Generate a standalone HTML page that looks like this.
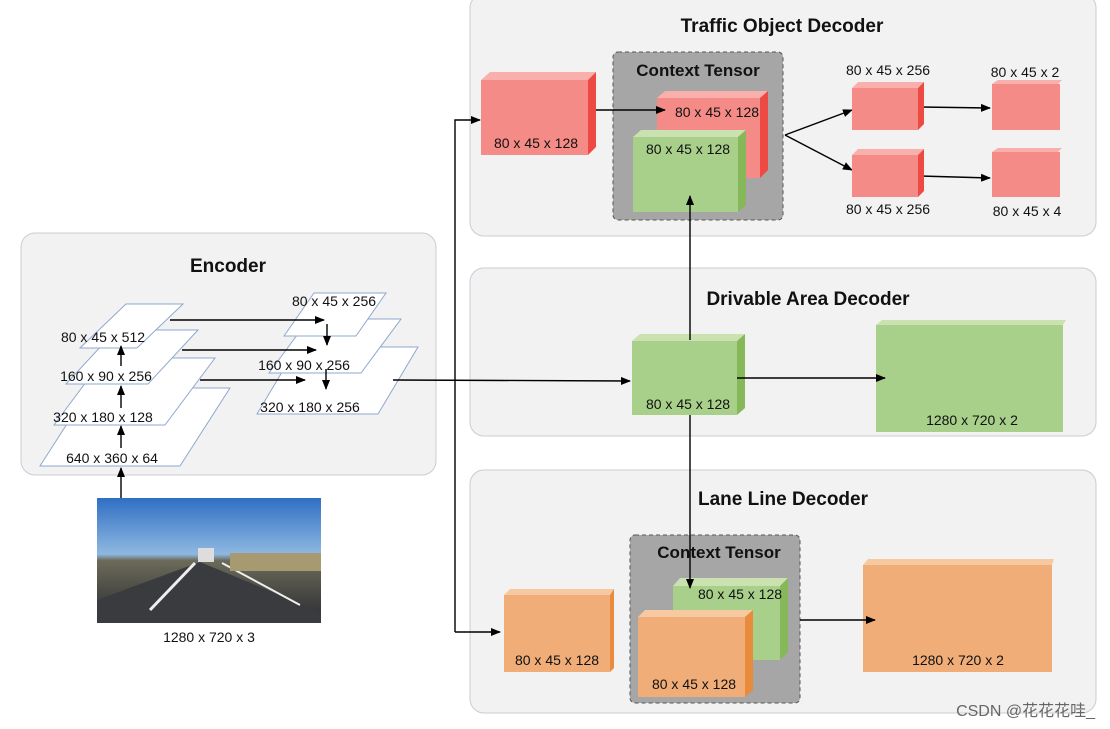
<!DOCTYPE html>
<html><head><style>body{margin:0;background:#fff}svg{display:block}text{font-family:"Liberation Sans","Noto Sans CJK SC",sans-serif}</style></head><body>
<svg width="1110" height="729" viewBox="0 0 1110 729" xmlns="http://www.w3.org/2000/svg">
<defs>
<marker id="a" markerWidth="10" markerHeight="8" refX="9" refY="4" orient="auto" markerUnits="userSpaceOnUse"><path d="M0,0L10,4L0,8z" fill="#000"/></marker>
<linearGradient id="sky" x1="0" y1="0" x2="0" y2="1"><stop offset="0" stop-color="#2f6fc4"/><stop offset="0.45" stop-color="#8fb8e0"/><stop offset="0.5" stop-color="#6b6a5a"/><stop offset="1" stop-color="#2a2c30"/></linearGradient>
</defs>
<rect x="21" y="233" width="415" height="242" rx="14" fill="#f2f2f2" stroke="#c9ccd8"/>
<rect x="470" y="-6" width="626" height="242" rx="14" fill="#f2f2f2" stroke="#c9ccd8"/>
<rect x="470" y="268" width="626" height="168" rx="14" fill="#f2f2f2" stroke="#c9ccd8"/>
<rect x="470" y="470" width="626" height="243" rx="14" fill="#f2f2f2" stroke="#c9ccd8"/>
<g font-weight="bold" font-size="19" text-anchor="middle" fill="#111">
<text x="228" y="272">Encoder</text>
<text x="782" y="32">Traffic Object Decoder</text>
<text x="808" y="305">Drivable Area Decoder</text>
<text x="783" y="505">Lane Line Decoder</text>
</g>
<g fill="#fff" stroke="#8fa8d0" stroke-width="1">
<polygon points="40,466 90,388 230,388 180,466"/>
<polygon points="54,425 104,358 215,358 165,425"/>
<polygon points="66,384 116,330 198,330 148,384"/>
<polygon points="80,348 126,304 183,304 137,348"/>
<polygon points="257,414 297,347 418,347 378,414"/>
<polygon points="269,373 309,319 401,319 361,373"/>
<polygon points="284,336 314,293 386,293 356,336"/>
</g>
<g font-size="14" fill="#111" text-anchor="middle">
<text x="103" y="342">80 x 45 x 512</text>
<text x="106" y="381">160 x 90 x 256</text>
<text x="103" y="422">320 x 180 x 128</text>
<text x="112" y="463">640 x 360 x 64</text>
<text x="334" y="306">80 x 45 x 256</text>
<text x="304" y="370">160 x 90 x 256</text>
<text x="310" y="412">320 x 180 x 256</text>
<text x="209" y="642">1280 x 720 x 3</text>
</g>
<g stroke="#000" stroke-width="1.4" fill="none" marker-end="url(#a)">
<line x1="121" y1="505" x2="121" y2="468"/>
<line x1="121" y1="448" x2="121" y2="426"/>
<line x1="121" y1="408" x2="121" y2="386"/>
<line x1="121" y1="366" x2="121" y2="346"/>
<line x1="170" y1="320" x2="324" y2="320"/>
<line x1="182" y1="350" x2="316" y2="350"/>
<line x1="200" y1="380" x2="305" y2="380"/>
<line x1="327" y1="324" x2="327" y2="345"/>
<line x1="326" y1="369" x2="326" y2="389"/>
<line x1="393" y1="380" x2="630" y2="381"/>
<polyline points="455,632 455,120 480,120"/>
<line x1="455" y1="632" x2="500" y2="632"/>
<line x1="785" y1="135" x2="852" y2="110"/>
<line x1="785" y1="135" x2="852" y2="170"/>
<line x1="920" y1="107" x2="990" y2="108"/>
<line x1="920" y1="176" x2="990" y2="178"/>
</g>
<rect x="97" y="498" width="224" height="125" fill="url(#sky)"/>
<polygon points="97,600 200,562 321,612 321,623 97,623" fill="#3a3b3e"/>
<line x1="150" y1="610" x2="195" y2="563" stroke="#eee" stroke-width="3"/>
<line x1="222" y1="563" x2="300" y2="605" stroke="#eee" stroke-width="2"/>
<rect x="230" y="553" width="91" height="18" fill="#a89a70"/>
<rect x="198" y="548" width="16" height="14" fill="#ddd"/>
<polygon points="481,80 490,72 596,72 588,80" fill="#f9b0ac"/><polygon points="588,80 596,72 596,147 588,155" fill="#ee4a44"/><rect x="481" y="80" width="107" height="75" fill="#f58b86"/>
<rect x="613" y="52" width="170" height="168" rx="5" fill="#a6a6a6" stroke="#555" stroke-dasharray="4,3"/>
<polygon points="657,98 665,91 768,91 760,98" fill="#f9b0ac"/><polygon points="760,98 768,91 768,170 760,178" fill="#ee4a44"/><rect x="657" y="98" width="103" height="80" fill="#f58b86"/>
<polygon points="633,137 641,130 746,130 738,137" fill="#c9e2b0"/><polygon points="738,137 746,130 746,205 738,212" fill="#86b85a"/><rect x="633" y="137" width="105" height="75" fill="#a8d08a"/>
<polygon points="852,88 858,82 924,82 918,88" fill="#f9b0ac"/><polygon points="918,88 924,82 924,124 918,130" fill="#ee4a44"/><rect x="852" y="88" width="66" height="42" fill="#f58b86"/>
<polygon points="852,155 858,149 924,149 918,155" fill="#f9b0ac"/><polygon points="918,155 924,149 924,191 918,197" fill="#ee4a44"/><rect x="852" y="155" width="66" height="42" fill="#f58b86"/>
<polygon points="992,84 998,80 1062,80 1058,84" fill="#f9b0ac"/><rect x="992" y="84" width="68" height="46" fill="#f58b86"/>
<polygon points="992,152 998,148 1062,148 1058,152" fill="#f9b0ac"/><rect x="992" y="152" width="68" height="45" fill="#f58b86"/>
<polygon points="632,341 640,334 745,334 737,341" fill="#c9e2b0"/><polygon points="737,341 745,334 745,408 737,415" fill="#86b85a"/><rect x="632" y="341" width="105" height="74" fill="#a8d08a"/>
<polygon points="876,325 882,320 1066,320 1063,325" fill="#c9e2b0"/><rect x="876" y="325" width="187" height="107" fill="#a8d08a"/>
<polygon points="504,595 510,589 614,589 610,595" fill="#f7c9a0"/><polygon points="610,595 614,589 614,668 610,672" fill="#e88b3c"/><rect x="504" y="595" width="106" height="77" fill="#f0ad78"/>
<rect x="630" y="535" width="170" height="168" rx="5" fill="#a6a6a6" stroke="#555" stroke-dasharray="4,3"/>
<polygon points="673,586 680,578 788,578 780,586" fill="#c9e2b0"/><polygon points="780,586 788,578 788,652 780,660" fill="#86b85a"/><rect x="673" y="586" width="107" height="74" fill="#a8d08a"/>
<polygon points="638,617 645,610 753,610 745,617" fill="#f7c9a0"/><polygon points="745,617 753,610 753,690 745,697" fill="#e88b3c"/><rect x="638" y="617" width="107" height="80" fill="#f0ad78"/>
<polygon points="863,565 868,559 1054,559 1052,565" fill="#f7c9a0"/><rect x="863" y="565" width="189" height="107" fill="#f0ad78"/>
<g stroke="#000" stroke-width="1.4" fill="none" marker-end="url(#a)">
<line x1="596" y1="110" x2="665" y2="110"/>
<line x1="690" y1="340" x2="690" y2="196"/>
<line x1="690" y1="415" x2="690" y2="588"/>
<line x1="737" y1="378" x2="885" y2="378"/>
<line x1="800" y1="620" x2="875" y2="620"/>
</g>
<g font-size="14" fill="#111" text-anchor="middle">
<text x="536" y="148">80 x 45 x 128</text>
<text x="717" y="117">80 x 45 x 128</text>
<text x="688" y="154">80 x 45 x 128</text>
<text x="888" y="75">80 x 45 x 256</text>
<text x="888" y="214">80 x 45 x 256</text>
<text x="1025" y="77">80 x 45 x 2</text>
<text x="1027" y="216">80 x 45 x 4</text>
<text x="688" y="409">80 x 45 x 128</text>
<text x="972" y="425">1280 x 720 x 2</text>
<text x="557" y="665">80 x 45 x 128</text>
<text x="740" y="599">80 x 45 x 128</text>
<text x="694" y="689">80 x 45 x 128</text>
<text x="958" y="665">1280 x 720 x 2</text>
</g>
<g font-weight="bold" font-size="17" fill="#111" text-anchor="middle">
<text x="698" y="76">Context Tensor</text>
<text x="719" y="558">Context Tensor</text>
</g>
<text x="1095" y="716" font-size="16" fill="#666" text-anchor="end">CSDN @花花花哇_</text>
</svg>
</body></html>
